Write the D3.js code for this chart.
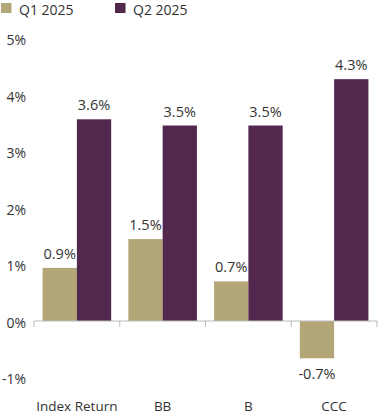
<!DOCTYPE html>
<html><head><meta charset="utf-8">
<script src="https://cdn.jsdelivr.net/npm/d3@7"></script>
<style>body{margin:0;background:#fff}svg{display:block}text{font-family:"Open Sans",sans-serif;fill:#333}</style>
</head><body><svg id="c" width="380" height="415"></svg>
<script>
const categories = ["Index Return", "BB", "B", "CCC"];
const seriesNames = ["Q1 2025", "Q2 2025"];
const q1 = [0.94, 1.45, 0.70, -0.66];
const q2 = [3.57, 3.46, 3.46, 4.28];
const q1Labels = ["0.9%", "1.5%", "0.7%", "-0.7%"];
const q2Labels = ["3.6%", "3.5%", "3.5%", "4.3%"];
const yTicks = [-1, 0, 1, 2, 3, 4, 5];
const colors = ["#B3A77A", "#52284F"];

const svg = d3.select("#c");
const y = d3.scaleLinear().domain([0, 5]).range([321, 38.5]);
const x0 = d3.scaleBand().domain(categories).range([34, 377]).paddingInner(0).paddingOuter(0);
const x1 = d3.scaleBand().domain(seriesNames).range([0, x0.bandwidth()]).paddingInner(0).paddingOuter(0.25);

// y tick labels
svg.append("g").selectAll("text").data(yTicks).join("text")
  .attr("x", 26).attr("y", d => y(d) + 2).attr("dy", "0.35em")
  .attr("text-anchor", "end").style("font-size", "14px")
  .text(d => d + "%");

const data = categories.map((c, i) => ({c, vals: [q1[i], q2[i]], labs: [q1Labels[i], q2Labels[i]]}));
const g = svg.append("g").selectAll("g").data(data).join("g")
  .attr("transform", d => `translate(${x0(d.c)},0)`);
g.selectAll("rect").data(d => d.vals.map((v, j) => ({v, j}))).join("rect")
  .attr("x", d => x1(seriesNames[d.j])).attr("width", x1.bandwidth())
  .attr("y", d => y(Math.max(0, d.v))).attr("height", d => Math.abs(y(d.v) - y(0)))
  .attr("fill", d => colors[d.j]);
g.selectAll("text").data(d => d.vals.map((v, j) => ({v, j, l: d.labs[j]}))).join("text")
  .attr("x", d => x1(seriesNames[d.j]) + x1.bandwidth() / 2)
  .attr("y", d => d.v >= 0 ? y(d.v) - 9 : y(d.v) + 21)
  .attr("text-anchor", "middle").style("font-size", "14.5px")
  .text(d => d.l);

// x axis
const ax = svg.append("g");
ax.append("line").attr("x1", 34).attr("x2", 377).attr("y1", y(0)).attr("y2", y(0))
  .attr("stroke", "#bbb").attr("stroke-width", 1);
const bounds = categories.map(c => x0(c)).concat([x0.range()[1]]);
ax.selectAll("line.t").data(bounds).join("line").attr("class", "t")
  .attr("x1", d => d).attr("x2", d => d).attr("y1", y(0)).attr("y2", y(0) + 6)
  .attr("stroke", "#bbb").attr("stroke-width", 1);
ax.selectAll("text").data(categories).join("text")
  .attr("x", d => x0(d) + x0.bandwidth() / 2).attr("y", 406).attr("dy", "0.35em")
  .attr("text-anchor", "middle").style("font-size", "13.5px").text(d => d);

// legend
const lg = svg.append("g").selectAll("g").data(seriesNames).join("g")
  .attr("transform", (d, i) => `translate(${i === 0 ? 1 : 115},3)`);
lg.append("rect").attr("width", 10.5).attr("height", 10).attr("fill", (d, i) => colors[i]);
lg.append("text").attr("x", 18).attr("y", 12).style("font-size", "14px").text(d => d);
</script></body></html>
